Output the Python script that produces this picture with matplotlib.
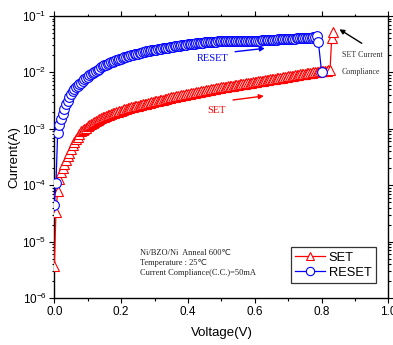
import matplotlib
matplotlib.use("Agg")
import matplotlib.pyplot as plt
from matplotlib.ticker import MultipleLocator, LogLocator, NullFormatter, FixedLocator

# ---------------- data ----------------
set_v = [0.000, 0.005, 0.010, 0.015, 0.020, 0.025, 0.030, 0.035, 0.040, 0.045,
         0.050, 0.055, 0.060, 0.065, 0.070, 0.075, 0.080, 0.085, 0.090, 0.095,
         0.100, 0.105, 0.110, 0.115, 0.120, 0.125, 0.130, 0.135, 0.140, 0.145,
         0.150, 0.155, 0.160, 0.165, 0.170, 0.175, 0.180, 0.185, 0.190, 0.195,
         0.200, 0.205, 0.210, 0.215, 0.220, 0.225, 0.230, 0.235, 0.240, 0.245,
         0.250, 0.255, 0.260, 0.265, 0.270, 0.275, 0.280, 0.285, 0.290, 0.295,
         0.300, 0.305, 0.310, 0.315, 0.320, 0.325, 0.330, 0.335, 0.340, 0.345,
         0.350, 0.355, 0.360, 0.365, 0.370, 0.375, 0.380, 0.385, 0.390, 0.395,
         0.400, 0.405, 0.410, 0.415, 0.420, 0.425, 0.430, 0.435, 0.440, 0.445,
         0.450, 0.455, 0.460, 0.465, 0.470, 0.475, 0.480, 0.485, 0.490, 0.495,
         0.500, 0.505, 0.510, 0.515, 0.520, 0.525, 0.530, 0.535, 0.540, 0.545,
         0.550, 0.555, 0.560, 0.565, 0.570, 0.575, 0.580, 0.585, 0.590, 0.595,
         0.600, 0.605, 0.610, 0.615, 0.620, 0.625, 0.630, 0.635, 0.640, 0.645,
         0.650, 0.655, 0.660, 0.665, 0.670, 0.675, 0.680, 0.685, 0.690, 0.695,
         0.700, 0.705, 0.710, 0.715, 0.720, 0.725, 0.730, 0.735, 0.740, 0.745,
         0.750, 0.755, 0.760, 0.765, 0.770, 0.775, 0.780, 0.785, 0.790, 0.795,
         0.800, 0.805, 0.810, 0.815, 0.820, 0.825, 0.830, 0.835]
set_i = [3.7e-6, 3.4e-5, 8.0e-5, 1.3e-4, 1.7e-4, 2.05e-4, 2.4e-4, 2.85e-4, 3.3e-4, 3.8e-4,
         4.4e-4, 5.1e-4, 5.9e-4, 6.5e-4, 7.2e-4, 8.1e-4, 9.0e-4, 9.5e-4, 1.0e-3, 1.05e-3,
         1.1e-3, 1.15e-3, 1.2e-3, 1.25e-3, 1.3e-3, 1.37e-3, 1.45e-3, 1.5e-3, 1.55e-3, 1.6e-3,
         1.65e-3, 1.7e-3, 1.75e-3, 1.79e-3, 1.83e-3, 1.87e-3, 1.90e-3, 1.95e-3, 2.0e-3, 2.05e-3,
         2.1e-3, 2.15e-3, 2.2e-3, 2.25e-3, 2.3e-3, 2.35e-3, 2.4e-3, 2.45e-3, 2.5e-3, 2.52e-3,
         2.55e-3, 2.6e-3, 2.65e-3, 2.7e-3, 2.75e-3, 2.8e-3, 2.85e-3, 2.9e-3, 2.95e-3, 3.0e-3,
         3.05e-3, 3.1e-3, 3.15e-3, 3.2e-3, 3.25e-3, 3.3e-3, 3.35e-3, 3.4e-3, 3.45e-3, 3.52e-3,
         3.6e-3, 3.65e-3, 3.7e-3, 3.75e-3, 3.8e-3, 3.85e-3, 3.9e-3, 3.95e-3, 4.0e-3, 4.07e-3,
         4.15e-3, 4.2e-3, 4.25e-3, 4.3e-3, 4.35e-3, 4.42e-3, 4.5e-3, 4.57e-3, 4.65e-3, 4.7e-3,
         4.75e-3, 4.82e-3, 4.9e-3, 4.95e-3, 5.0e-3, 5.07e-3, 5.15e-3, 5.22e-3, 5.3e-3, 5.35e-3,
         5.4e-3, 5.45e-3, 5.5e-3, 5.57e-3, 5.65e-3, 5.72e-3, 5.8e-3, 5.85e-3, 5.9e-3, 5.97e-3,
         6.05e-3, 6.12e-3, 6.2e-3, 6.27e-3, 6.35e-3, 6.42e-3, 6.5e-3, 6.55e-3, 6.6e-3, 6.7e-3,
         6.8e-3, 6.87e-3, 6.95e-3, 7.02e-3, 7.1e-3, 7.17e-3, 7.25e-3, 7.32e-3, 7.4e-3, 7.5e-3,
         7.6e-3, 7.67e-3, 7.75e-3, 7.82e-3, 7.9e-3, 8.0e-3, 8.1e-3, 8.2e-3, 8.3e-3, 8.4e-3,
         8.5e-3, 8.6e-3, 8.7e-3, 8.8e-3, 8.9e-3, 9.0e-3, 9.1e-3, 9.2e-3, 9.3e-3, 9.4e-3,
         9.5e-3, 9.6e-3, 9.7e-3, 9.8e-3, 9.9e-3, 1.0e-2, 1.01e-2, 1.02e-2, 1.03e-2, 1.04e-2,
         1.05e-2, 1.06e-2, 1.07e-2, 1.08e-2, 1.09e-2, 1.1e-2, 4.0e-2, 5.3e-2]

reset_v = [0.000, 0.005, 0.010, 0.015, 0.020, 0.025, 0.030, 0.035, 0.040, 0.045,
           0.050, 0.055, 0.060, 0.065, 0.070, 0.075, 0.080, 0.085, 0.090, 0.095,
           0.100, 0.105, 0.110, 0.115, 0.120, 0.125, 0.130, 0.135, 0.140, 0.145,
           0.150, 0.155, 0.160, 0.165, 0.170, 0.175, 0.180, 0.185, 0.190, 0.195,
           0.200, 0.205, 0.210, 0.215, 0.220, 0.225, 0.230, 0.235, 0.240, 0.245,
           0.250, 0.255, 0.260, 0.265, 0.270, 0.275, 0.280, 0.285, 0.290, 0.295,
           0.300, 0.305, 0.310, 0.315, 0.320, 0.325, 0.330, 0.335, 0.340, 0.345,
           0.350, 0.355, 0.360, 0.365, 0.370, 0.375, 0.380, 0.385, 0.390, 0.395,
           0.400, 0.405, 0.410, 0.415, 0.420, 0.425, 0.430, 0.435, 0.440, 0.445,
           0.450, 0.455, 0.460, 0.465, 0.470, 0.475, 0.480, 0.485, 0.490, 0.495,
           0.500, 0.505, 0.510, 0.515, 0.520, 0.525, 0.530, 0.535, 0.540, 0.545,
           0.550, 0.555, 0.560, 0.565, 0.570, 0.575, 0.580, 0.585, 0.590, 0.595,
           0.600, 0.605, 0.610, 0.615, 0.620, 0.625, 0.630, 0.635, 0.640, 0.645,
           0.650, 0.655, 0.660, 0.665, 0.670, 0.675, 0.680, 0.685, 0.690, 0.695,
           0.700, 0.705, 0.710, 0.715, 0.720, 0.725, 0.730, 0.735, 0.740, 0.745,
           0.750, 0.755, 0.760, 0.765, 0.770, 0.775, 0.780, 0.785,
           0.790, 0.800]
reset_i = [4.5e-5, 1.1e-4, 8.3e-4, 1.15e-3, 1.48e-3, 1.85e-3, 2.24e-3, 2.7e-3, 3.16e-3, 3.7e-3,
           4.2e-3, 4.6e-3, 5.0e-3, 5.4e-3, 5.75e-3, 6.15e-3, 6.6e-3, 7.1e-3, 7.6e-3, 8.0e-3,
           8.4e-3, 8.85e-3, 9.3e-3, 9.75e-3, 1.02e-2, 1.07e-2, 1.12e-2, 1.17e-2, 1.23e-2, 1.28e-2,
           1.33e-2, 1.37e-2, 1.41e-2, 1.46e-2, 1.51e-2, 1.55e-2, 1.60e-2, 1.64e-2, 1.68e-2, 1.72e-2,
           1.76e-2, 1.80e-2, 1.84e-2, 1.88e-2, 1.93e-2, 1.97e-2, 2.02e-2, 2.05e-2, 2.09e-2, 2.12e-2,
           2.16e-2, 2.20e-2, 2.24e-2, 2.28e-2, 2.32e-2, 2.36e-2, 2.40e-2, 2.42e-2, 2.45e-2, 2.48e-2,
           2.51e-2, 2.54e-2, 2.57e-2, 2.60e-2, 2.63e-2, 2.66e-2, 2.69e-2, 2.72e-2, 2.75e-2, 2.78e-2,
           2.82e-2, 2.85e-2, 2.88e-2, 2.91e-2, 2.95e-2, 2.98e-2, 3.02e-2, 3.05e-2, 3.09e-2, 3.12e-2,
           3.16e-2, 3.18e-2, 3.20e-2, 3.22e-2, 3.24e-2, 3.27e-2, 3.31e-2, 3.33e-2, 3.35e-2, 3.37e-2,
           3.39e-2, 3.41e-2, 3.43e-2, 3.45e-2, 3.47e-2, 3.49e-2, 3.51e-2, 3.53e-2, 3.55e-2, 3.55e-2,
           3.56e-2, 3.56e-2, 3.57e-2, 3.57e-2, 3.58e-2, 3.58e-2, 3.59e-2, 3.59e-2, 3.60e-2, 3.60e-2,
           3.61e-2, 3.61e-2, 3.62e-2, 3.62e-2, 3.62e-2, 3.62e-2, 3.63e-2, 3.63e-2, 3.63e-2, 3.63e-2,
           3.64e-2, 3.65e-2, 3.66e-2, 3.67e-2, 3.69e-2, 3.70e-2, 3.72e-2, 3.73e-2, 3.75e-2, 3.76e-2,
           3.78e-2, 3.79e-2, 3.81e-2, 3.82e-2, 3.84e-2, 3.85e-2, 3.87e-2, 3.88e-2, 3.90e-2, 3.91e-2,
           3.93e-2, 3.94e-2, 3.96e-2, 3.97e-2, 3.99e-2, 4.00e-2, 4.02e-2, 4.03e-2, 4.05e-2, 4.06e-2,
           4.08e-2, 4.09e-2, 4.11e-2, 4.12e-2, 4.14e-2, 4.20e-2, 4.30e-2, 4.50e-2,
           3.50e-2, 1.00e-2]

x_ticks = [0.0, 0.2, 0.4, 0.6, 0.8, 1.0]
x_tick_labels = ["0.0", "0.2", "0.4", "0.6", "0.8", "1.0"]
y_ticks = [1e-6, 1e-5, 1e-4, 1e-3, 1e-2, 1e-1]
y_tick_labels = [r"$\mathdefault{10^{-6}}$", r"$\mathdefault{10^{-5}}$", r"$\mathdefault{10^{-4}}$",
                 r"$\mathdefault{10^{-3}}$", r"$\mathdefault{10^{-2}}$", r"$\mathdefault{10^{-1}}$"]
series_labels = ["SET", "RESET"]
info_lines = ["Ni/BZO/Ni  Anneal 600\u2103", "Temperature : 25\u2103", "Current Compliance(C.C.)=50mA"]

# ---------------- figure ----------------
plt.rcParams['font.family'] = ['Liberation Sans', 'DejaVu Sans']
plt.rcParams['mathtext.fontset'] = 'custom'
plt.rcParams['mathtext.rm'] = 'Liberation Sans'
plt.rcParams['mathtext.it'] = 'Liberation Sans:italic'

fig = plt.figure(figsize=(3.93, 3.45), dpi=100)
ax = fig.add_axes([54.3 / 393, 1 - 298 / 345, (388.5 - 54.3) / 393, (298 - 16) / 345])

ax.plot(set_v, set_i, '-^', color='#ff0000', mfc='white', mec='#ff0000',
        ms=7.0, mew=0.8, lw=0.9, label=series_labels[0], zorder=3)
ax.plot(reset_v, reset_i, '-o', color='#0000ff', mfc='white', mec='#0000ff',
        ms=7.0, mew=0.8, lw=0.9, label=series_labels[1], zorder=4)

ax.set_yscale('log')
ax.set_xlim(0, 1.0)
ax.set_ylim(1e-6, 1e-1)
ax.xaxis.set_major_locator(FixedLocator(x_ticks))
ax.set_xticklabels(x_tick_labels)
ax.xaxis.set_minor_locator(MultipleLocator(0.1))
ax.yaxis.set_major_locator(FixedLocator(y_ticks))
ax.set_yticklabels(y_tick_labels)
ax.yaxis.set_minor_locator(LogLocator(base=10, subs=[2, 3, 4, 5, 6, 7, 8, 9], numticks=20))
ax.yaxis.set_minor_formatter(NullFormatter())

for s in ax.spines.values():
    s.set_linewidth(1.0)
ax.tick_params(which='both', direction='out', top=True, right=True, width=0.8, labelsize=8.5,
               colors='black')
ax.tick_params(which='major', length=3.5, pad=2)
ax.tick_params(which='minor', length=1.8)

ax.set_xlabel('Voltage(V)', fontsize=9.5, labelpad=7)
ax.set_ylabel('Current(A)', fontsize=9.5, labelpad=1.5)

serif = ['Liberation Serif', 'DejaVu Sans']
ax.text(0.475, 1.74e-2, 'RESET', color='#0000ff', fontsize=7.5, family=serif,
        ha='center', va='center')
ax.text(0.484, 2.07e-3, 'SET', color='#ff0000', fontsize=7.5, family=serif,
        ha='center', va='center')
ax.annotate('', xy=(0.630, 10 ** -1.573), xytext=(0.541, 10 ** -1.633),
            arrowprops=dict(arrowstyle='-|>', color='#0000ff', lw=1.0, mutation_scale=7,
                            shrinkA=0, shrinkB=0))
ax.annotate('', xy=(0.627, 10 ** -2.418), xytext=(0.535, 10 ** -2.489),
            arrowprops=dict(arrowstyle='-|>', color='#ff0000', lw=1.0, mutation_scale=7,
                            shrinkA=0, shrinkB=0))
ax.annotate('', xy=(0.853, 10 ** -1.236), xytext=(0.920, 10 ** -1.484),
            arrowprops=dict(arrowstyle='-|>', color='black', lw=1.0, mutation_scale=7,
                            shrinkA=0, shrinkB=0))
ax.text(0.861, 2.03e-2, 'SET Current', color='#333333', fontsize=5.8, family=serif,
        ha='left', va='center')
ax.text(0.861, 1.02e-2, 'Compliance', color='#333333', fontsize=5.8, family=serif,
        ha='left', va='center')

for k, line in enumerate(info_lines):
    ax.text(0.257, 10 ** (-5.20 - 0.18 * k), line, fontsize=6.0, family=serif,
            ha='left', va='center', color='#222222')

leg = ax.legend(loc='lower right', bbox_to_anchor=(0.9626, 0.052), borderaxespad=0,
                fontsize=9.3, frameon=True, fancybox=False, edgecolor='black',
                handlelength=2.3, handletextpad=0.3, labelspacing=0.25, borderpad=0.35,
                markerscale=6.0 / 7.0)
leg.get_frame().set_linewidth(0.9)

fig.savefig('out.png', dpi=100)
